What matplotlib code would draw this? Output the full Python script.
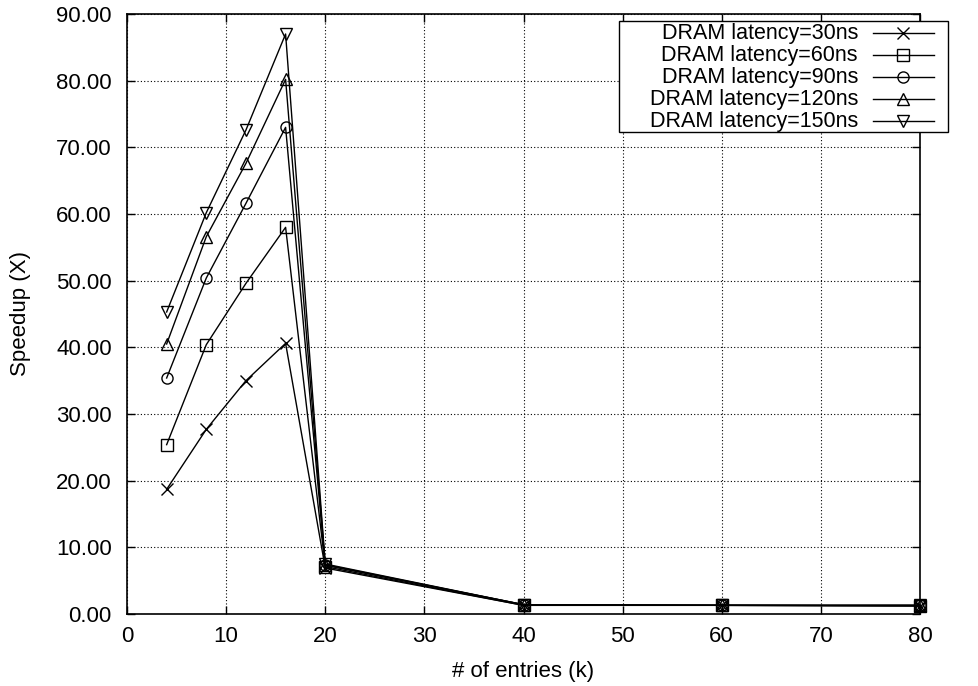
import matplotlib
matplotlib.use('Agg')
import matplotlib.pyplot as plt
from matplotlib.patches import Rectangle

plt.rcParams['font.family'] = ['Liberation Sans', 'DejaVu Sans']
plt.rcParams['font.size'] = 16

# number of entries (k)
entries = [4, 8, 12, 16, 20, 40, 60, 80]

# speedup for each DRAM latency
lat_30 = [18.7, 27.7, 35.0, 40.6, 6.9, 1.3, 1.3, 1.2]
lat_60 = [25.4, 40.4, 49.6, 58.0, 7.1, 1.3, 1.3, 1.2]
lat_90 = [35.4, 50.4, 61.6, 73.0, 7.3, 1.4, 1.3, 1.3]
lat_120 = [40.5, 56.6, 67.6, 80.2, 7.4, 1.4, 1.3, 1.3]
lat_150 = [45.3, 60.2, 72.6, 87.0, 7.5, 1.4, 1.3, 1.3]

labels = ['DRAM latency=30ns', 'DRAM latency=60ns', 'DRAM latency=90ns',
          'DRAM latency=120ns', 'DRAM latency=150ns']
markers = ['x', 's', 'o', '^', 'v']
series = [lat_30, lat_60, lat_90, lat_120, lat_150]

fig = plt.figure(figsize=(9.79, 6.86), dpi=100)
ax = fig.add_axes([127/979, 72/686, 793/979, 600/686])

for ys, m in zip(series, markers):
    ax.plot(entries, ys, color='black', lw=1.0, marker=m, ms=8,
            mfc='none', mec='black', mew=1.0, clip_on=False, zorder=3)

ax.set_xlim(0, 80)
ax.set_ylim(0, 90)
ax.set_xticks(range(0, 81, 10))
ax.set_yticks(range(0, 91, 10))
ax.set_yticklabels(['%.2f' % v for v in range(0, 91, 10)])
ax.tick_params(direction='in', length=6, width=1, top=True, right=True,
               labelsize=16, colors='black')
ax.tick_params(axis='x', pad=9)
ax.tick_params(axis='y', pad=11)
ax.grid(True, color='black', linestyle=(0, (1, 2)), linewidth=0.8)
for s in ax.spines.values():
    s.set_linewidth(1.2)

ax.set_xlabel('# of entries (k)', fontsize=16, labelpad=10)
ax.set_ylabel('Speedup (X)', fontsize=16, labelpad=18)

# key box in the upper right, text right-aligned with samples after it
def fx(px):
    return (px - 127) / 793.0

def fy(py):
    return (614 - py) / 600.0

box = Rectangle((fx(619), fy(132)), fx(948) - fx(619), fy(21) - fy(132),
                transform=ax.transAxes, facecolor='white', edgecolor='black',
                lw=1.0, zorder=5, clip_on=False)
ax.add_patch(box)
rows = [33, 55, 77, 99, 121]
for lab, m, r in zip(labels, markers, rows):
    ax.text(fx(858), fy(r), lab, transform=ax.transAxes, ha='right',
            va='center', fontsize=15.5, zorder=6)
    ax.plot([fx(873), fx(934)], [fy(r), fy(r)], transform=ax.transAxes,
            color='black', lw=1.0, zorder=6, clip_on=False)
    ax.plot([fx(903)], [fy(r)], transform=ax.transAxes, marker=m, ms=8,
            mfc='none', mec='black', mew=1.0, zorder=6, clip_on=False)

fig.savefig('out.png', dpi=100)
